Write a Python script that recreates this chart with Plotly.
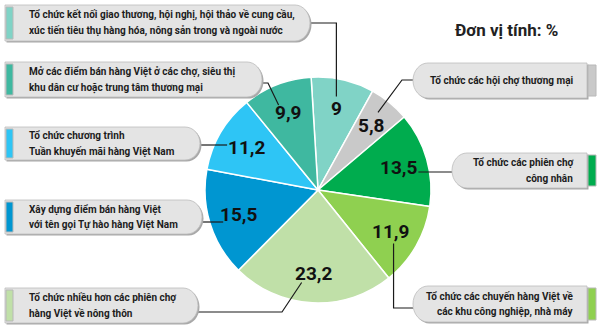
import math
import plotly.graph_objects as go

# ---------------- data ----------------
categories = [
    "Tổ chức kết nối giao thương, hội nghị, hội thảo về cung cầu, xúc tiến tiêu thụ hàng hóa, nông sản trong và ngoài nước",
    "Tổ chức các hội chợ thương mại",
    "Tổ chức các phiên chợ công nhân",
    "Tổ chức các chuyến hàng Việt về các khu công nghiệp, nhà máy",
    "Tổ chức nhiều hơn các phiên chợ hàng Việt về nông thôn",
    "Xây dựng điểm bán hàng Việt với tên gọi Tự hào hàng Việt Nam",
    "Tổ chức chương trình Tuần khuyến mãi hàng Việt Nam",
    "Mở các điểm bán hàng Việt ở các chợ, siêu thị khu dân cư hoặc trung tâm thương mại",
]
values = [9, 5.8, 13.5, 11.9, 23.2, 15.5, 11.2, 9.9]
box_lines = [
    ["Tổ chức kết nối giao thương, hội nghị, hội thảo về cung cầu,",
     "xúc tiến tiêu thụ hàng hóa, nông sản trong và ngoài nước"],
    ["Tổ chức các hội chợ thương mại"],
    ["Tổ chức các phiên chợ", "công nhân"],
    ["Tổ chức các chuyến hàng Việt về", "các khu công nghiệp, nhà máy"],
    ["Tổ chức nhiều hơn các phiên chợ", "hàng Việt về nông thôn"],
    ["Xây dựng điểm bán hàng Việt", "với tên gọi Tự hào hàng Việt Nam"],
    ["Tổ chức chương trình", "Tuần khuyến mãi hàng Việt Nam"],
    ["Mở các điểm bán hàng Việt ở các chợ, siêu thị",
     "khu dân cư hoặc trung tâm thương mại"],
]
unit_label = "Đơn vị tính: %"

# ---------------- style ----------------
colors = ["#80d3c6", "#c9c9c9", "#00ac4e", "#8fd050",
          "#c0e0a8", "#0096d1", "#2ec5f5", "#3fb8a0"]
W, H = 600, 336
CX, CY, R = 318, 190, 113
ROT = -3.5
LABEL_R = 0.74
NUM_FONT = "Roboto, Liberation Sans, sans-serif"
TXT_FONT = "Roboto, Liberation Sans, sans-serif"


def px(x):
    return x / W


def py(y):
    return 1 - y / H


# box geometry (pixels): side, x0, x1, y0, y1
boxes = [
    ("L", 5, 310, 5, 41),
    ("R", 413, 587, 63, 98),
    ("R", 452, 587, 153, 188),
    ("R", 413, 587, 286, 322),
    ("L", 5, 198, 288, 323),
    ("L", 5, 202, 200, 234),
    ("L", 5, 200, 127, 160),
    ("L", 5, 262, 62, 97),
]

# leader waypoints as functions of the label position
leaders = [
    lambda lx, ly: [(310, 23), (lx, 23), (lx, ly - 12)],
    lambda lx, ly: [(413, 80), (402, 80), (lx + 7, ly - 13)],
    lambda lx, ly: [(452, 172), (lx + 20, 172)],
    lambda lx, ly: [(413, 308), (lx + 3, 308), (lx + 3, ly + 12)],
    lambda lx, ly: [(198, 312), (282, 312), (lx - 12, ly + 9)],
    lambda lx, ly: [(202, 222), (lx - 15, 222)],
    lambda lx, ly: [(200, 145), (lx - 19, 145)],
    lambda lx, ly: [(262, 83), (268, 83), (lx - 9, ly - 7)],
]

fig = go.Figure()
fig.add_trace(go.Pie(
    labels=categories,
    values=values,
    sort=False,
    direction="clockwise",
    rotation=ROT,
    marker=dict(colors=colors, line=dict(color="white", width=1.5)),
    textinfo="none",
    hovertemplate="%{label}: %{value}%<extra></extra>",
    showlegend=False,
    domain=dict(x=[(CX - R) / W, (CX + R) / W],
                y=[(H - CY - R) / H, (H - CY + R) / H]),
))

shapes = []
annotations = []
K = 0.5523


def pt(x, y):
    return f"{px(x):.5f},{py(y):.5f}"


def box_path(side, x0, x1, y0, y1):
    ym = (y0 + y1) / 2
    ry = (y1 - y0) / 2
    rx = 15
    if side == "L":
        return (f"M{pt(x0, y0)} L{pt(x1 - rx, y0)} "
                f"C{pt(x1 - rx + K * rx, y0)} {pt(x1, ym - K * ry)} {pt(x1, ym)} "
                f"C{pt(x1, ym + K * ry)} {pt(x1 - rx + K * rx, y1)} {pt(x1 - rx, y1)} "
                f"L{pt(x0, y1)} Z")
    return (f"M{pt(x1, y0)} L{pt(x0 + rx, y0)} "
            f"C{pt(x0 + rx - K * rx, y0)} {pt(x0, ym - K * ry)} {pt(x0, ym)} "
            f"C{pt(x0, ym + K * ry)} {pt(x0 + rx - K * rx, y1)} {pt(x0 + rx, y1)} "
            f"L{pt(x1, y1)} Z")


total = sum(values)
start = ROT
for i, v in enumerate(values):
    a0 = start
    a1 = a0 + v / total * 360
    start = a1
    mid = math.radians((a0 + a1) / 2)
    lx = CX + LABEL_R * R * math.sin(mid)
    ly = CY - LABEL_R * R * math.cos(mid)
    txt = f"{v:g}".replace(".", ",")
    annotations.append(dict(
        x=px(lx), y=py(ly), xref="paper", yref="paper", text=f"<b>{txt}</b>",
        showarrow=False, xanchor="center", yanchor="middle",
        font=dict(family=NUM_FONT, size=19, color="#111111")))

    # leader line
    pts = leaders[i](lx, ly)
    path = "M" + " L".join(pt(x, y) for x, y in pts)
    shapes.append(dict(type="path", xref="paper", yref="paper", path=path,
                       line=dict(color="#1a1a1a", width=1.2)))

    side, x0, x1, y0, y1 = boxes[i]
    # shadow
    shapes.append(dict(type="path", xref="paper", yref="paper",
                       path=box_path(side, x0 + 1.5, x1 + 1.5, y0 + 1.5, y1 + 1.5),
                       fillcolor="#a8a8a8", line=dict(width=0)))
    # box
    shapes.append(dict(type="path", xref="paper", yref="paper",
                       path=box_path(side, x0, x1, y0, y1),
                       fillcolor="#e4e4e4", line=dict(color="#bdbdbd", width=0.8)))
    # colour bar
    if side == "L":
        bx0, bx1 = 6, 13
    else:
        bx0, bx1 = x1 + 1, x1 + 9
    shapes.append(dict(type="rect", xref="paper", yref="paper",
                       x0=px(bx0), x1=px(bx1), y0=py(y0 + 2), y1=py(y1 - 2),
                       fillcolor=colors[i], line=dict(color="#b8b8b8", width=1)))

    # text lines
    lines = box_lines[i]
    ym = (y0 + y1) / 2
    n = len(lines)
    for j, line in enumerate(lines):
        ty = ym + (j - (n - 1) / 2) * 16
        if side == "L":
            tx, anchor = 27, "left"
        else:
            tx, anchor = x1 - 12, "right"
        annotations.append(dict(
            x=px(tx), y=py(ty), xref="paper", yref="paper", text=f"<b>{line}</b>",
            showarrow=False, xanchor=anchor, yanchor="middle",
            font=dict(family=TXT_FONT, size=10, color="#1c1c1c")))

annotations.append(dict(
    x=px(506), y=py(30), xref="paper", yref="paper", text=f"<b>{unit_label}</b>",
    showarrow=False, xanchor="center", yanchor="middle",
    font=dict(family=NUM_FONT, size=17, color="#222222")))

fig.update_layout(
    width=W, height=H,
    margin=dict(l=0, r=0, t=0, b=0),
    paper_bgcolor="white", plot_bgcolor="white",
    shapes=shapes, annotations=annotations,
    separators=",.",
)

fig.write_html("out.html")
